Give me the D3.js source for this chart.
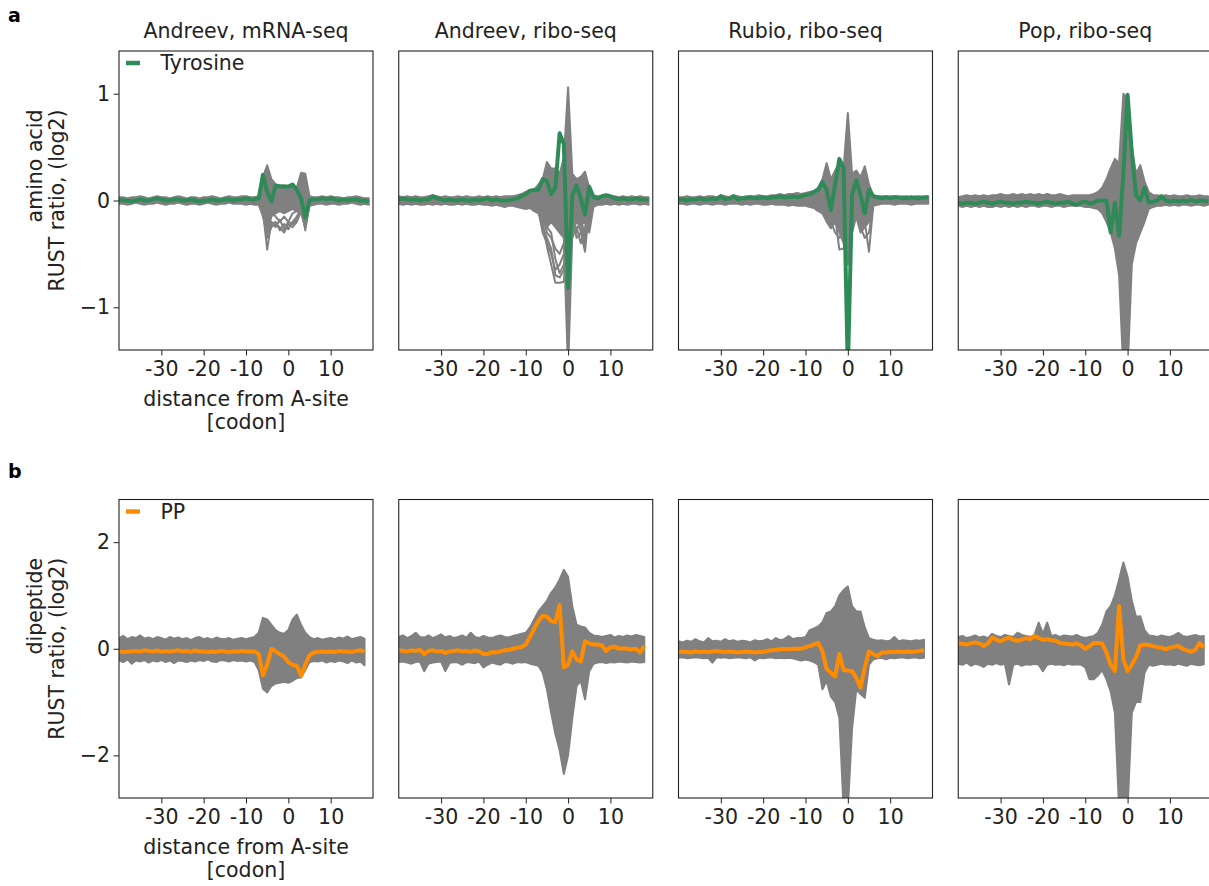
<!DOCTYPE html>
<html>
<head>
<meta charset="utf-8">
<script src="https://cdn.jsdelivr.net/npm/d3@7"></script>
<style>
  body { margin: 0; background: #fff; }
  svg { display: block; font-family: "DejaVu Sans", sans-serif; }
</style>
</head>
<body>
<svg id="fig" width="1209" height="886"></svg>
<script>
// codon positions relative to the A-site
const codonsA = d3.range(-40, 20);   // amino acid rows: -40..19
const codonsB = d3.range(-40, 19);   // dipeptide rows: -40..18
const codonsWin = d3.range(-8, 7);   // window for the few separate grey lines

const titles = ['Andreev, mRNA-seq', 'Andreev, ribo-seq', 'Rubio, ribo-seq', 'Pop, ribo-seq'];
const xTicks = [-30, -20, -10, 0, 10];
const yTicksA = [-1, 0, 1];
const yTicksB = [-2, 0, 2];

// ---- row a : amino acids, Tyrosine highlighted ----
const tyrMrna = [
  0.01, 0.00, 0.00, -0.01, 0.00, 0.01, 0.00, 0.00, 0.01, 0.02,
  0.01, 0.00, 0.00, 0.01, 0.01, 0.00, 0.00, 0.01, 0.00, -0.01,
  0.00, 0.00, 0.01, 0.00, 0.00, 0.01, 0.01, 0.00, 0.01, 0.01,
  0.02, 0.01, 0.01, 0.02, 0.24, 0.08, -0.01, 0.14, 0.13, 0.13,
  0.13, 0.15, 0.10, 0.02, -0.16, 0.00, 0.01, 0.01, 0.02, 0.01,
  0.02, 0.01, 0.00, 0.01, 0.00, 0.01, 0.01, 0.00, 0.00, -0.01];
const aaUpMrna = [
  0.03, 0.03, 0.02, 0.03, 0.03, 0.04, 0.03, 0.02, 0.03, 0.04,
  0.03, 0.03, 0.02, 0.03, 0.04, 0.03, 0.02, 0.03, 0.03, 0.02,
  0.03, 0.03, 0.04, 0.03, 0.02, 0.03, 0.04, 0.03, 0.03, 0.04,
  0.04, 0.03, 0.03, 0.04, 0.22, 0.33, 0.20, 0.15, 0.14, 0.14,
  0.13, 0.14, 0.12, 0.26, 0.25, 0.04, 0.03, 0.03, 0.04, 0.03,
  0.04, 0.03, 0.03, 0.02, 0.03, 0.03, 0.04, 0.03, 0.02, 0.02];
const aaLoMrna = [
  -0.03, -0.03, -0.04, -0.03, -0.02, -0.03, -0.04, -0.03, -0.03, -0.02,
  -0.03, -0.04, -0.03, -0.03, -0.02, -0.03, -0.04, -0.03, -0.03, -0.04,
  -0.03, -0.02, -0.03, -0.04, -0.03, -0.03, -0.02, -0.03, -0.03, -0.03,
  -0.04, -0.03, -0.04, -0.04, -0.15, -0.30, -0.15, -0.12, -0.10, -0.12,
  -0.10, -0.08, -0.10, -0.12, -0.25, -0.05, -0.04, -0.03, -0.03, -0.04,
  -0.03, -0.03, -0.04, -0.03, -0.03, -0.02, -0.03, -0.04, -0.03, -0.04];
const aaLinesMrna = [
  [-0.02, -0.03, -0.10, -0.46, -0.20, -0.25, -0.18, -0.27, -0.20, -0.22, -0.18, -0.05, -0.28, -0.03, -0.02],
  [0.00, -0.02, -0.08, -0.30, -0.22, -0.20, -0.28, -0.22, -0.27, -0.20, -0.15, -0.08, -0.20, -0.02, -0.01],
  [0.01, 0.00, 0.05, -0.20, -0.10, -0.15, -0.20, -0.15, -0.20, -0.12, -0.10, 0.05, -0.15, 0.00, 0.00],
  [0.00, -0.03, -0.12, -0.35, -0.25, -0.22, -0.25, -0.30, -0.22, -0.25, -0.20, -0.10, -0.25, -0.03, -0.01]];

const tyrAndreev = [
  0.01, 0.02, 0.01, 0.01, 0.01, 0.00, 0.01, 0.01, 0.04, 0.02,
  0.01, 0.00, 0.01, 0.00, 0.00, 0.01, 0.00, 0.00, 0.01, 0.00,
  0.01, 0.02, 0.00, 0.01, 0.00, 0.00, 0.00, 0.01, 0.02, 0.04,
  0.06, 0.09, 0.10, 0.10, 0.20, 0.18, 0.06, 0.12, 0.63, 0.53,
  -0.82, 0.05, 0.14, 0.02, -0.13, 0.13, 0.03, 0.02, 0.04, 0.05,
  0.04, 0.02, 0.01, 0.02, 0.01, 0.01, 0.02, 0.01, 0.01, 0.01];
const aaUpAndreev = [
  0.04, 0.03, 0.04, 0.03, 0.04, 0.03, 0.03, 0.04, 0.05, 0.04,
  0.03, 0.04, 0.03, 0.03, 0.04, 0.03, 0.04, 0.03, 0.03, 0.04,
  0.03, 0.04, 0.03, 0.04, 0.03, 0.04, 0.04, 0.04, 0.05, 0.06,
  0.08, 0.10, 0.10, 0.15, 0.20, 0.36, 0.30, 0.30, 0.25, 0.40,
  1.06, 0.25, 0.20, 0.22, 0.27, 0.12, 0.05, 0.04, 0.04, 0.05,
  0.04, 0.04, 0.03, 0.04, 0.03, 0.04, 0.03, 0.04, 0.03, 0.03];
const aaLoAndreev = [
  -0.03, -0.04, -0.03, -0.04, -0.03, -0.04, -0.04, -0.03, -0.04, -0.03,
  -0.04, -0.03, -0.04, -0.04, -0.03, -0.04, -0.03, -0.04, -0.04, -0.03,
  -0.04, -0.04, -0.05, -0.04, -0.05, -0.06, -0.05, -0.05, -0.06, -0.07,
  -0.08, -0.07, -0.10, -0.12, -0.20, -0.25, -0.20, -0.25, -0.30, -0.35,
  -1.60, -0.30, -0.20, -0.22, -0.20, -0.30, -0.06, -0.04, -0.04, -0.03,
  -0.04, -0.03, -0.04, -0.03, -0.04, -0.03, -0.03, -0.04, -0.03, -0.04];
const aaLinesAndreev = [
  [-0.08, -0.12, -0.20, -0.43, -0.60, -0.77, -0.77, -0.76, -0.10, -0.20, -0.10, -0.30, -0.48, -0.05, -0.03],
  [-0.05, -0.10, -0.30, -0.40, -0.50, -0.65, -0.60, -0.50, 0.10, -0.20, -0.30, -0.15, -0.35, -0.04, -0.02],
  [-0.02, -0.05, -0.15, -0.30, -0.35, -0.45, -0.50, -0.40, -0.20, -0.35, -0.25, -0.40, -0.25, -0.03, -0.02],
  [-0.06, -0.08, -0.25, -0.35, -0.45, -0.70, -0.72, -0.65, -0.15, -0.28, -0.18, -0.22, -0.42, -0.04, -0.02],
  [-0.04, -0.06, -0.12, -0.25, -0.30, -0.55, -0.68, -0.60, -0.25, -0.15, -0.35, -0.30, -0.30, -0.03, -0.02]];

const tyrRubio = [
  0.01, 0.01, 0.00, 0.01, 0.01, 0.02, 0.01, 0.01, 0.02, 0.01,
  0.04, 0.01, 0.02, 0.04, 0.01, 0.02, 0.02, 0.03, 0.02, 0.02,
  0.03, 0.02, 0.03, 0.03, 0.04, 0.03, 0.03, 0.04, 0.03, 0.04,
  0.05, 0.06, 0.08, 0.10, 0.17, 0.10, -0.09, 0.15, 0.39, 0.30,
  -1.60, 0.05, 0.19, 0.05, -0.12, 0.10, 0.04, 0.03, 0.02, 0.03,
  0.02, 0.03, 0.03, 0.02, 0.02, 0.03, 0.02, 0.02, 0.03, 0.03];
const aaUpRubio = [
  0.03, 0.03, 0.04, 0.03, 0.03, 0.04, 0.03, 0.04, 0.04, 0.03,
  0.05, 0.04, 0.03, 0.05, 0.04, 0.03, 0.04, 0.04, 0.04, 0.05,
  0.04, 0.04, 0.05, 0.05, 0.06, 0.05, 0.06, 0.06, 0.07, 0.06,
  0.07, 0.08, 0.09, 0.12, 0.20, 0.35, 0.20, 0.28, 0.35, 0.30,
  0.82, 0.25, 0.28, 0.22, 0.32, 0.15, 0.05, 0.04, 0.04, 0.04,
  0.04, 0.04, 0.03, 0.04, 0.04, 0.03, 0.04, 0.04, 0.03, 0.04];
const aaLoRubio = [
  -0.03, -0.03, -0.04, -0.03, -0.03, -0.04, -0.03, -0.03, -0.04, -0.03,
  -0.03, -0.04, -0.03, -0.03, -0.03, -0.04, -0.03, -0.04, -0.03, -0.03,
  -0.04, -0.04, -0.03, -0.04, -0.04, -0.04, -0.05, -0.04, -0.05, -0.05,
  -0.05, -0.06, -0.07, -0.10, -0.12, -0.18, -0.26, -0.20, -0.30, -0.40,
  -0.60, -0.30, -0.15, -0.30, -0.25, -0.20, -0.05, -0.04, -0.03, -0.03,
  -0.03, -0.04, -0.03, -0.03, -0.03, -0.04, -0.03, -0.03, -0.03, -0.03];
const aaLinesRubio = [
  [-0.05, -0.08, -0.12, -0.20, -0.26, -0.15, -0.46, -0.45, -0.20, -0.10, -0.15, -0.28, -0.20, -0.48, -0.05],
  [-0.03, -0.05, -0.08, -0.15, -0.20, -0.30, -0.35, -0.30, -0.30, -0.20, -0.05, -0.25, -0.35, -0.30, -0.04]];

const tyrPop = [
  -0.02, -0.03, -0.02, -0.02, -0.03, -0.02, -0.01, -0.02, -0.03, -0.02,
  -0.01, -0.02, -0.02, -0.03, -0.02, -0.02, -0.01, -0.02, -0.02, -0.03,
  -0.02, -0.01, -0.02, -0.03, -0.02, -0.02, -0.01, -0.03, -0.04, -0.02,
  -0.01, -0.03, -0.02, 0.00, 0.00, 0.00, -0.30, -0.02, -0.33, 0.25,
  0.99, 0.45, 0.05, 0.00, 0.12, -0.02, -0.01, 0.00, 0.04, 0.00,
  -0.01, 0.00, -0.01, 0.00, -0.01, 0.01, -0.01, 0.00, 0.00, -0.01];
const aaUpPop = [
  0.03, 0.04, 0.05, 0.04, 0.05, 0.04, 0.05, 0.04, 0.05, 0.05,
  0.06, 0.05, 0.05, 0.06, 0.05, 0.06, 0.05, 0.06, 0.05, 0.06,
  0.05, 0.06, 0.05, 0.05, 0.06, 0.05, 0.04, 0.05, 0.05, 0.05,
  0.05, 0.05, 0.06, 0.08, 0.12, 0.20, 0.30, 0.39, 0.35, 1.00,
  0.95, 0.50, 0.25, 0.33, 0.18, 0.08, 0.05, 0.05, 0.04, 0.05,
  0.04, 0.05, 0.04, 0.04, 0.05, 0.04, 0.04, 0.05, 0.04, 0.04];
const aaLoPop = [
  -0.05, -0.06, -0.05, -0.06, -0.05, -0.06, -0.05, -0.06, -0.06, -0.05,
  -0.06, -0.05, -0.06, -0.05, -0.06, -0.05, -0.06, -0.05, -0.05, -0.06,
  -0.05, -0.05, -0.06, -0.05, -0.05, -0.06, -0.05, -0.05, -0.05, -0.05,
  -0.06, -0.06, -0.07, -0.08, -0.12, -0.20, -0.30, -0.45, -0.70, -1.60,
  -1.60, -0.60, -0.40, -0.30, -0.20, -0.08, -0.06, -0.05, -0.05, -0.04,
  -0.05, -0.04, -0.05, -0.04, -0.04, -0.05, -0.04, -0.04, -0.05, -0.04];

// ---- row b : dipeptides, PP highlighted ----
const ppMrna = [
  -0.05, -0.06, -0.05, -0.05, -0.04, -0.05, -0.03, -0.04, -0.05, -0.03,
  -0.06, -0.04, -0.05, -0.04, -0.03, -0.05, -0.04, -0.06, -0.03, -0.05,
  -0.05, -0.06, -0.05, -0.06, -0.04, -0.05, -0.06, -0.05, -0.05, -0.04,
  -0.05, -0.05, -0.05, -0.10, -0.50, -0.30, 0.00, -0.05, -0.10, -0.15,
  -0.25, -0.30, -0.32, -0.50, -0.30, -0.12, -0.07, -0.06, -0.05, -0.06,
  -0.05, -0.06, -0.04, -0.05, -0.05, -0.06, -0.04, -0.03, -0.05];
const dpUpMrna = [
  0.20, 0.24, 0.18, 0.22, 0.20, 0.25, 0.19, 0.21, 0.18, 0.22,
  0.20, 0.17, 0.22, 0.19, 0.21, 0.18, 0.20, 0.16, 0.20, 0.22,
  0.18, 0.20, 0.17, 0.21, 0.19, 0.18, 0.20, 0.17, 0.19, 0.20,
  0.18, 0.20, 0.22, 0.30, 0.58, 0.55, 0.45, 0.35, 0.30, 0.28,
  0.35, 0.55, 0.64, 0.45, 0.30, 0.22, 0.18, 0.20, 0.17, 0.19,
  0.20, 0.18, 0.21, 0.19, 0.23, 0.18, 0.20, 0.22, 0.19];
const dpLoMrna = [
  -0.22, -0.25, -0.20, -0.28, -0.22, -0.24, -0.21, -0.26, -0.22, -0.24,
  -0.21, -0.25, -0.22, -0.27, -0.22, -0.23, -0.25, -0.22, -0.24, -0.21,
  -0.23, -0.20, -0.24, -0.25, -0.21, -0.22, -0.24, -0.21, -0.23, -0.22,
  -0.24, -0.22, -0.25, -0.40, -0.75, -0.82, -0.70, -0.65, -0.64, -0.62,
  -0.64, -0.60, -0.55, -0.54, -0.40, -0.25, -0.23, -0.24, -0.22, -0.26,
  -0.23, -0.25, -0.22, -0.24, -0.27, -0.22, -0.26, -0.24, -0.31];

const ppAndreev = [
  -0.03, -0.04, -0.05, -0.03, -0.04, -0.02, -0.10, -0.04, -0.03, -0.05,
  -0.04, -0.08, -0.05, -0.04, -0.03, -0.05, -0.04, -0.06, -0.03, -0.05,
  -0.10, -0.10, -0.06, -0.07, -0.05, -0.03, -0.02, 0.00, 0.02, 0.03,
  0.08, 0.22, 0.38, 0.52, 0.62, 0.60, 0.52, 0.50, 0.82, -0.35,
  -0.30, -0.05, -0.20, -0.24, 0.14, 0.10, 0.08, 0.08, 0.06, -0.04,
  0.03, 0.04, 0.00, 0.01, 0.00, -0.01, 0.00, -0.07, 0.05];
const dpUpAndreev = [
  0.22, 0.25, 0.20, 0.24, 0.30, 0.22, 0.21, 0.25, 0.20, 0.23,
  0.27, 0.21, 0.24, 0.20, 0.22, 0.25, 0.21, 0.30, 0.22, 0.20,
  0.24, 0.21, 0.20, 0.23, 0.25, 0.22, 0.21, 0.24, 0.26, 0.28,
  0.30, 0.40, 0.55, 0.70, 0.80, 0.90, 1.05, 1.15, 1.30, 1.48,
  1.35, 0.80, 0.45, 0.42, 0.40, 0.30, 0.25, 0.24, 0.22, 0.24,
  0.26, 0.21, 0.24, 0.22, 0.25, 0.23, 0.26, 0.24, 0.22];
const dpLoAndreev = [
  -0.25, -0.24, -0.26, -0.28, -0.25, -0.24, -0.42, -0.28, -0.26, -0.25,
  -0.24, -0.42, -0.27, -0.25, -0.26, -0.30, -0.25, -0.26, -0.27, -0.24,
  -0.35, -0.30, -0.26, -0.28, -0.30, -0.25, -0.26, -0.28, -0.25, -0.26,
  -0.25, -0.28, -0.30, -0.32, -0.45, -0.76, -1.20, -1.60, -1.90, -2.35,
  -2.00, -1.30, -0.70, -0.60, -0.95, -0.42, -0.28, -0.26, -0.25, -0.27,
  -0.25, -0.26, -0.24, -0.25, -0.26, -0.24, -0.25, -0.26, -0.25];

const ppRubio = [
  -0.06, -0.05, -0.06, -0.07, -0.05, -0.06, -0.05, -0.06, -0.05, -0.04,
  -0.05, -0.06, -0.05, -0.06, -0.07, -0.06, -0.05, -0.06, -0.07, -0.06,
  -0.06, -0.04, -0.03, -0.02, -0.01, 0.00, -0.01, 0.00, 0.00, 0.00,
  0.03, 0.05, 0.08, 0.11, -0.05, -0.38, -0.45, -0.52, -0.10, -0.40,
  -0.41, -0.42, -0.55, -0.73, -0.35, -0.05, -0.10, -0.14, -0.07, -0.07,
  -0.06, -0.06, -0.05, -0.06, -0.05, -0.06, -0.05, -0.04, -0.03];
const dpUpRubio = [
  0.14, 0.12, 0.15, 0.13, 0.18, 0.14, 0.12, 0.20, 0.14, 0.15,
  0.13, 0.18, 0.14, 0.16, 0.13, 0.15, 0.14, 0.12, 0.16, 0.14,
  0.15, 0.18, 0.14, 0.20, 0.16, 0.18, 0.24, 0.18, 0.20, 0.20,
  0.22, 0.35, 0.38, 0.42, 0.50, 0.67, 0.70, 0.80, 1.00, 1.10,
  1.17, 0.80, 0.70, 0.70, 0.40, 0.20, 0.17, 0.15, 0.16, 0.14,
  0.15, 0.22, 0.14, 0.16, 0.15, 0.14, 0.16, 0.15, 0.17];
const dpLoRubio = [
  -0.17, -0.16, -0.18, -0.17, -0.16, -0.17, -0.18, -0.17, -0.26, -0.16,
  -0.17, -0.16, -0.18, -0.17, -0.16, -0.17, -0.18, -0.16, -0.22, -0.17,
  -0.18, -0.17, -0.16, -0.18, -0.17, -0.18, -0.17, -0.18, -0.20, -0.22,
  -0.20, -0.22, -0.25, -0.30, -0.76, -0.60, -0.90, -1.00, -1.30, -3.00,
  -3.00, -1.50, -0.76, -0.85, -0.92, -0.30, -0.20, -0.18, -0.17, -0.20,
  -0.17, -0.18, -0.17, -0.16, -0.18, -0.17, -0.16, -0.18, -0.17];

const ppPop = [
  0.11, 0.09, 0.08, 0.10, 0.12, 0.10, 0.05, 0.10, 0.21, 0.17,
  0.14, 0.18, 0.21, 0.17, 0.15, 0.17, 0.20, 0.18, 0.24, 0.20,
  0.17, 0.18, 0.16, 0.15, 0.11, 0.10, 0.09, 0.08, 0.10, 0.06,
  0.00, 0.05, 0.11, 0.11, 0.10, -0.07, -0.30, -0.42, 0.80, -0.20,
  -0.42, -0.30, -0.15, 0.06, 0.08, 0.07, 0.05, 0.03, 0.02, -0.01,
  0.02, 0.04, 0.05, 0.00, -0.03, -0.06, -0.02, 0.11, 0.02];
const dpUpPop = [
  0.22, 0.24, 0.20, 0.22, 0.25, 0.21, 0.23, 0.20, 0.28, 0.24,
  0.22, 0.26, 0.24, 0.22, 0.30, 0.26, 0.24, 0.22, 0.26, 0.49,
  0.28, 0.49, 0.24, 0.26, 0.22, 0.25, 0.24, 0.23, 0.26, 0.22,
  0.20, 0.22, 0.24, 0.30, 0.45, 0.70, 0.80, 1.00, 1.30, 1.62,
  1.35, 0.90, 0.60, 0.61, 0.35, 0.25, 0.24, 0.22, 0.25, 0.23,
  0.22, 0.25, 0.30, 0.24, 0.22, 0.24, 0.26, 0.23, 0.24];
const dpLoPop = [
  -0.28, -0.30, -0.26, -0.32, -0.28, -0.30, -0.34, -0.28, -0.30, -0.27,
  -0.30, -0.28, -0.67, -0.30, -0.28, -0.32, -0.29, -0.30, -0.28, -0.30,
  -0.42, -0.30, -0.28, -0.30, -0.29, -0.31, -0.28, -0.30, -0.29, -0.30,
  -0.35, -0.57, -0.57, -0.50, -0.40, -0.57, -0.80, -1.20, -3.00, -3.00,
  -3.00, -1.20, -1.00, -1.00, -0.45, -0.30, -0.32, -0.30, -0.28, -0.30,
  -0.29, -0.31, -0.28, -0.30, -0.32, -0.28, -0.30, -0.31, -0.29];

const rows = [
  {
    top: 51, h: 299, ylim: [-1.4, 1.4], yTicks: yTicksA, codons: codonsA,
    color: '#2e8b57', label: 'Tyrosine', tag: 'a', tagY: 22,
    ylabel: ['amino acid', 'RUST ratio, (log2)'],
    up: [aaUpMrna, aaUpAndreev, aaUpRubio, aaUpPop],
    lo: [aaLoMrna, aaLoAndreev, aaLoRubio, aaLoPop],
    extra: [aaLinesMrna, aaLinesAndreev, aaLinesRubio, []],
    hi: [tyrMrna, tyrAndreev, tyrRubio, tyrPop]
  },
  {
    top: 499.5, h: 298.5, ylim: [-2.8, 2.8], yTicks: yTicksB, codons: codonsB,
    color: '#ff8c00', label: 'PP', tag: 'b', tagY: 478,
    ylabel: ['dipeptide', 'RUST ratio, (log2)'],
    up: [dpUpMrna, dpUpAndreev, dpUpRubio, dpUpPop],
    lo: [dpLoMrna, dpLoAndreev, dpLoRubio, dpLoPop],
    extra: [[], [], [], []],
    hi: [ppMrna, ppAndreev, ppRubio, ppPop]
  }
];

const panelLeft = [119, 398.75, 678.5, 958.25];
const panelW = 254;
const grey = '#808080';
const ink = '#222';
const fs = 20.5;

const svg = d3.select('#fig');
const minus = d => d < 0 ? '\u2212' + Math.abs(d) : String(d);

rows.forEach((row, r) => {
  svg.append('text')
    .attr('x', 8).attr('y', row.tagY)
    .attr('font-size', 19).attr('font-weight', 'bold').attr('fill', '#000')
    .text(row.tag);

  panelLeft.forEach((left, p) => {
    const x = d3.scaleLinear().domain([-40, 20]).range([left, left + panelW]);
    const y = d3.scaleLinear().domain(row.ylim).range([row.top + row.h, row.top]);
    const g = svg.append('g');

    const clipId = 'clip' + r + p;
    g.append('clipPath').attr('id', clipId)
      .append('rect')
      .attr('x', left).attr('y', row.top)
      .attr('width', panelW).attr('height', row.h);

    const plot = g.append('g').attr('clip-path', `url(#${clipId})`);

    // grey band made by all other amino acids / dipeptides
    const band = d3.area()
      .x(i => x(row.codons[i]))
      .y0(i => y(row.lo[p][i]))
      .y1(i => y(row.up[p][i]));
    plot.append('path')
      .datum(d3.range(row.codons.length))
      .attr('d', band)
      .attr('fill', grey)
      .attr('stroke', grey)
      .attr('stroke-width', 2)
      .attr('stroke-linejoin', 'round');

    const line = d3.line().x(d => x(d[0])).y(d => y(d[1]));
    row.extra[p].forEach(vals => {
      plot.append('path')
        .datum(codonsWin.map((c, i) => [c, vals[i]]))
        .attr('d', line)
        .attr('fill', 'none')
        .attr('stroke', grey)
        .attr('stroke-width', 2)
        .attr('stroke-linejoin', 'round');
    });

    plot.append('path')
      .datum(row.codons.map((c, i) => [c, row.hi[p][i]]))
      .attr('d', line)
      .attr('fill', 'none')
      .attr('stroke', row.color)
      .attr('stroke-width', 4)
      .attr('stroke-linejoin', 'round');

    // frame
    g.append('rect')
      .attr('x', left).attr('y', row.top)
      .attr('width', panelW).attr('height', row.h)
      .attr('fill', 'none').attr('stroke', ink).attr('stroke-width', 1.1);

    const xAxis = g.append('g')
      .attr('transform', `translate(0,${row.top + row.h})`)
      .call(d3.axisBottom(x).tickValues(xTicks).tickSize(5.5).tickPadding(5.9)
        .tickFormat(d => String(d)));
    xAxis.select('.domain').remove();
    xAxis.selectAll('line').attr('stroke', ink);
    xAxis.selectAll('text').attr('font-size', fs).attr('fill', ink)
      .attr('font-family', '"DejaVu Sans", sans-serif');

    if (p === 0) {
      const yAxis = g.append('g')
        .attr('transform', `translate(${left},0)`)
        .call(d3.axisLeft(y).tickValues(row.yTicks).tickSize(5.5).tickPadding(3.5)
          .tickFormat(minus));
      yAxis.select('.domain').remove();
      yAxis.selectAll('line').attr('stroke', ink);
      yAxis.selectAll('text').attr('font-size', fs).attr('fill', ink)
        .attr('font-family', '"DejaVu Sans", sans-serif');

      // legend
      const ly = row.top + 12;
      g.append('line')
        .attr('x1', left + 7).attr('x2', left + 21)
        .attr('y1', ly).attr('y2', ly)
        .attr('stroke', row.color).attr('stroke-width', 4.5);
      g.append('text')
        .attr('x', left + 41.5).attr('y', ly + 7)
        .attr('font-size', fs).attr('fill', ink)
        .text(row.label);

      // x label
      const cx = left + panelW / 2;
      const base = row.top + row.h;
      g.append('text').attr('x', cx).attr('y', base + 56)
        .attr('text-anchor', 'middle').attr('font-size', fs).attr('fill', ink)
        .text('distance from A-site');
      g.append('text').attr('x', cx).attr('y', base + 79)
        .attr('text-anchor', 'middle').attr('font-size', fs).attr('fill', ink)
        .text('[codon]');

      // y label, two lines ending at the same height
      const cy = row.top + row.h / 2;
      const probe = g.append('text').attr('font-size', fs).text(row.ylabel[1]);
      const len = probe.node().getComputedTextLength();
      probe.remove();
      const yTop = cy - len / 2;
      [[42, row.ylabel[0]], [63.5, row.ylabel[1]]].forEach(([lx, txt]) => {
        g.append('text')
          .attr('transform', `translate(${lx},${yTop}) rotate(-90)`)
          .attr('text-anchor', 'end')
          .attr('font-size', fs).attr('fill', ink)
          .text(txt);
      });
    }

    if (r === 0) {
      svg.append('text')
        .attr('x', left + panelW / 2).attr('y', 38)
        .attr('text-anchor', 'middle').attr('font-size', fs).attr('fill', ink)
        .text(titles[p]);
    }
  });
});
</script>
</body>
</html>
